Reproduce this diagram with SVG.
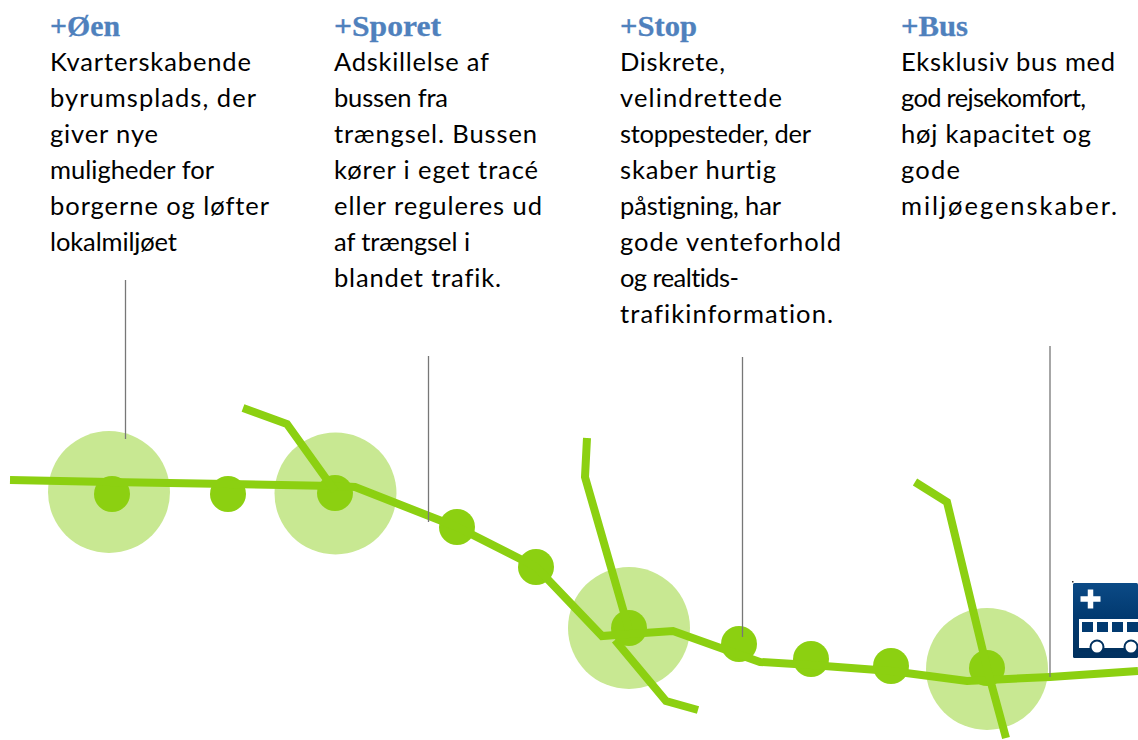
<svg xmlns="http://www.w3.org/2000/svg" width="1138" height="740" viewBox="0 0 1138 740">
<defs><linearGradient id="busbg" x1="0" y1="0" x2="0" y2="1"><stop offset="0" stop-color="#0b4a86"/><stop offset=".45" stop-color="#023a70"/><stop offset="1" stop-color="#01315f"/></linearGradient></defs>
<style>
.h{font-family:"Liberation Serif",serif;font-weight:700;font-size:30px;fill:#4f81bd;stroke:#4f81bd;stroke-width:.3}
.b{font-family:Lato,"Liberation Sans",sans-serif;font-size:25.500px;fill:#000;font-variant-ligatures:none}
.halo{fill:#c8e892}
.stop{fill:#8cd011}
.route{fill:none;stroke:#8cd011;stroke-width:8}
.lead{stroke:#777;stroke-width:1.300;fill:none}
</style>
<rect width="1138" height="740" fill="#fff"/>
<g id="halos">
<circle class="halo" cx="109" cy="492" r="61"/>
<circle class="halo" cx="335.500" cy="493.500" r="61"/>
<circle class="halo" cx="629" cy="628" r="61"/>
<circle class="halo" cx="987" cy="669" r="61"/>
</g>
<g id="stop-oen-node"><circle class="stop" cx="112" cy="494" r="18"/></g>
<g id="stop-2"><circle class="stop" cx="228" cy="494" r="18"/></g>
<g id="stop-sporet-node"><circle class="stop" cx="335" cy="493" r="18"/></g>
<g id="stop-4"><circle class="stop" cx="457" cy="527" r="18"/></g>
<g id="stop-5"><circle class="stop" cx="536" cy="567" r="18"/></g>
<g id="stop-stop-node"><circle class="stop" cx="629" cy="628" r="18"/></g>
<g id="stop-7"><circle class="stop" cx="739" cy="644" r="18"/></g>
<g id="stop-8"><circle class="stop" cx="811" cy="659" r="18"/></g>
<g id="stop-9"><circle class="stop" cx="891" cy="666" r="18"/></g>
<g id="stop-bus-node"><circle class="stop" cx="987" cy="668" r="18"/></g>
<g id="connectors">
<path class="route" d="M10 480L110 482L228 484L335 486L355 487L457 527L536 567L602 636L629 634L673 631L760 662L811 665L891 671L967 681L987 680L1050 677L1138 671"/>
<path class="route" d="M243 408L287 424L335 491"/>
<path class="route" d="M587 438L585 477L629 630"/>
<path class="route" d="M615 640L666 701L698 710"/>
<path class="route" d="M915 482L947 502L987 668L1006 738"/>
<path class="lead" d="M125.500 280V439"/>
<path class="lead" d="M428.500 356V522"/>
<path class="lead" d="M742.500 357V637"/>
<path class="lead" d="M1050 346V677"/>
</g>
<g id="bus-icon">
<rect x="1072" y="581" width="1.500" height="1.500" fill="#333"/>
<rect x="1073" y="583" width="65" height="75" rx="1.500" fill="url(#busbg)"/>
<path d="M1080.500 599H1100.500M1090.500 589.500V608.500" stroke="#fff" stroke-width="5.500" fill="none"/>
<path d="M1079 619H1138V648H1079Z" fill="#fff"/>
<rect x="1082" y="622" width="11" height="10" fill="#023a70"/>
<rect x="1097" y="622" width="11" height="10" fill="#023a70"/>
<rect x="1112" y="622" width="11" height="10" fill="#023a70"/>
<rect x="1127" y="622" width="11" height="10" fill="#023a70"/>
<path d="M1079 648H1138V652H1079Z" fill="#01315f"/>
<circle cx="1097" cy="647" r="6.500" fill="#fff" stroke="#01315f" stroke-width="2"/>
<circle cx="1131" cy="647" r="6.500" fill="#fff" stroke="#01315f" stroke-width="2"/>
</g>
<g id="col-oen">
<text class="h" x="50" y="36" textLength="70" lengthAdjust="spacingAndGlyphs">+Øen</text>
<text class="b" x="50" y="71" textLength="201">Kvarterskabende</text>
<text class="b" x="50" y="107" textLength="206">byrumsplads, der</text>
<text class="b" x="50" y="143" textLength="108">giver nye</text>
<text class="b" x="50" y="179" textLength="164">muligheder for</text>
<text class="b" x="50" y="215" textLength="219">borgerne og løfter</text>
<text class="b" x="50" y="251" textLength="127">lokalmiljøet</text>
</g>
<g id="col-sporet">
<text class="h" x="334" y="36" textLength="107" lengthAdjust="spacingAndGlyphs">+Sporet</text>
<text class="b" x="334" y="71" textLength="155">Adskillelse af</text>
<text class="b" x="334" y="107" textLength="114">bussen fra</text>
<text class="b" x="334" y="143" textLength="203">trængsel. Bussen</text>
<text class="b" x="334" y="179" textLength="204">kører i eget tracé</text>
<text class="b" x="334" y="215" textLength="208">eller reguleres ud</text>
<text class="b" x="334" y="251" textLength="136">af trængsel i</text>
<text class="b" x="334" y="287" textLength="167">blandet trafik.</text>
</g>
<g id="col-stop">
<text class="h" x="620" y="36" textLength="77" lengthAdjust="spacingAndGlyphs">+Stop</text>
<text class="b" x="620" y="71" textLength="105">Diskrete,</text>
<text class="b" x="620" y="107" textLength="162">velindrettede</text>
<text class="b" x="620" y="143" textLength="191">stoppesteder, der</text>
<text class="b" x="620" y="179" textLength="156">skaber hurtig</text>
<text class="b" x="620" y="215" textLength="161">påstigning, har</text>
<text class="b" x="620" y="251" textLength="221">gode venteforhold</text>
<text class="b" x="620" y="287" textLength="119">og realtids-</text>
<text class="b" x="620" y="323" textLength="213">trafikinformation.</text>
</g>
<g id="col-bus">
<text class="h" x="901" y="36" textLength="67" lengthAdjust="spacingAndGlyphs">+Bus</text>
<text class="b" x="901" y="71" textLength="214">Eksklusiv bus med</text>
<text class="b" x="901" y="107" textLength="185">god rejsekomfort,</text>
<text class="b" x="901" y="143" textLength="190">høj kapacitet og</text>
<text class="b" x="901" y="179" textLength="59">gode</text>
<text class="b" x="901" y="215" textLength="216">miljøegenskaber.</text>
</g>
</svg>
